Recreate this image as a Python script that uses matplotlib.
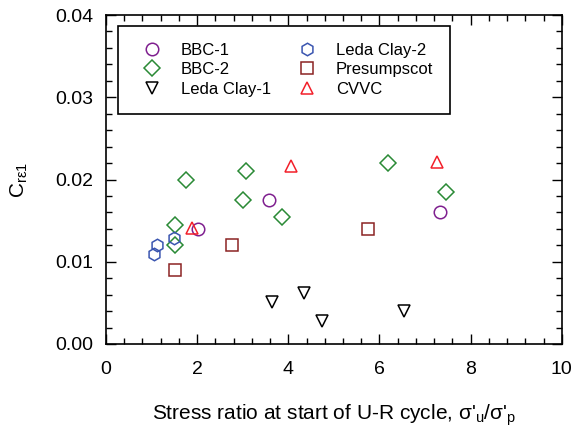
import numpy as np
import matplotlib.pyplot as plt
from matplotlib.ticker import MultipleLocator

plt.rcParams['font.family'] = ['Liberation Sans', 'DejaVu Sans']
plt.rcParams['mathtext.fontset'] = 'custom'
plt.rcParams['mathtext.rm'] = 'Liberation Sans'
plt.rcParams['mathtext.it'] = 'Liberation Sans:italic'

# stress ratio (x) and C_re1 (y) per soil
bbc1_x = [2.01, 3.58, 7.33]
bbc1_y = [0.0140, 0.0175, 0.0160]
bbc2_x = [1.75, 3.08, 3.00, 3.86, 1.51, 1.51, 6.19, 7.45]
bbc2_y = [0.0200, 0.0210, 0.0175, 0.0155, 0.0145, 0.0120, 0.0220, 0.0185]
leda1_x = [3.64, 4.35, 4.74, 6.53]
leda1_y = [0.0051, 0.0062, 0.0028, 0.0040]
leda2_x = [1.05, 1.12, 1.49]
leda2_y = [0.0110, 0.0120, 0.0129]
presu_x = [1.52, 2.76, 5.75]
presu_y = [0.0090, 0.0120, 0.0140]
cvvc_x = [1.89, 4.05, 7.27]
cvvc_y = [0.0141, 0.0216, 0.0221]

fig = plt.figure(figsize=(5.74, 4.30), dpi=100)
ax = fig.add_axes([0.1847, 0.2, 0.794, 0.765])

ms = 9
mew = 1.1
ax.plot(bbc1_x, bbc1_y, 'o', ms=ms, mfc='none', mec='#7f1f8f', mew=mew, label='BBC-1')
ax.plot(bbc2_x, bbc2_y, 'D', ms=ms - 0.8, mfc='none', mec='#2a8a35', mew=mew, label='BBC-2')
ax.plot(leda1_x, leda1_y, 'v', ms=ms, mfc='none', mec='black', mew=mew, label='Leda Clay-1')
ax.plot(leda2_x, leda2_y, 'h', ms=ms, mfc='none', mec='#3a55b0', mew=mew, label='Leda Clay-2')
ax.plot(presu_x, presu_y, 's', ms=ms, mfc='none', mec='#8b2323', mew=mew, label='Presumpscot')
ax.plot(cvvc_x, cvvc_y, '^', ms=ms, mfc='none', mec='#f21f2a', mew=mew, label='CVVC')

ax.set_xlim(0, 10)
ax.set_ylim(0, 0.04)
ax.xaxis.set_major_locator(MultipleLocator(2))
ax.xaxis.set_minor_locator(MultipleLocator(0.4))
ax.yaxis.set_major_locator(MultipleLocator(0.01))
ax.yaxis.set_minor_locator(MultipleLocator(0.002))
ax.yaxis.set_major_formatter(plt.FormatStrFormatter('%.2f'))
ax.tick_params(which='both', direction='in', top=True, right=True, labelsize=14, width=1)
ax.tick_params(which='major', length=7)
ax.tick_params(which='minor', length=4)
ax.tick_params(axis='x', which='major', pad=12)
ax.tick_params(axis='y', which='major', pad=9)
for s in ax.spines.values():
    s.set_linewidth(1.2)

ax.set_xlabel("Stress ratio at start of U-R cycle, σ'$_\\mathrm{u}$/σ'$_\\mathrm{p}$", fontsize=15, labelpad=18)
ax.set_ylabel(r'C$_\mathrm{r\varepsilon1}$', fontsize=15, labelpad=18)

leg = ax.legend(ncol=2, loc='upper left', bbox_to_anchor=(0.026, 0.967), fontsize=12,
                frameon=True, fancybox=False, edgecolor='black', framealpha=1,
                handletextpad=0.68, columnspacing=1.1, labelspacing=0.28,
                borderpad=1.0, handlelength=2.1, borderaxespad=0)
leg.get_frame().set_linewidth(1.2)

fig.savefig('out.png', dpi=100)
